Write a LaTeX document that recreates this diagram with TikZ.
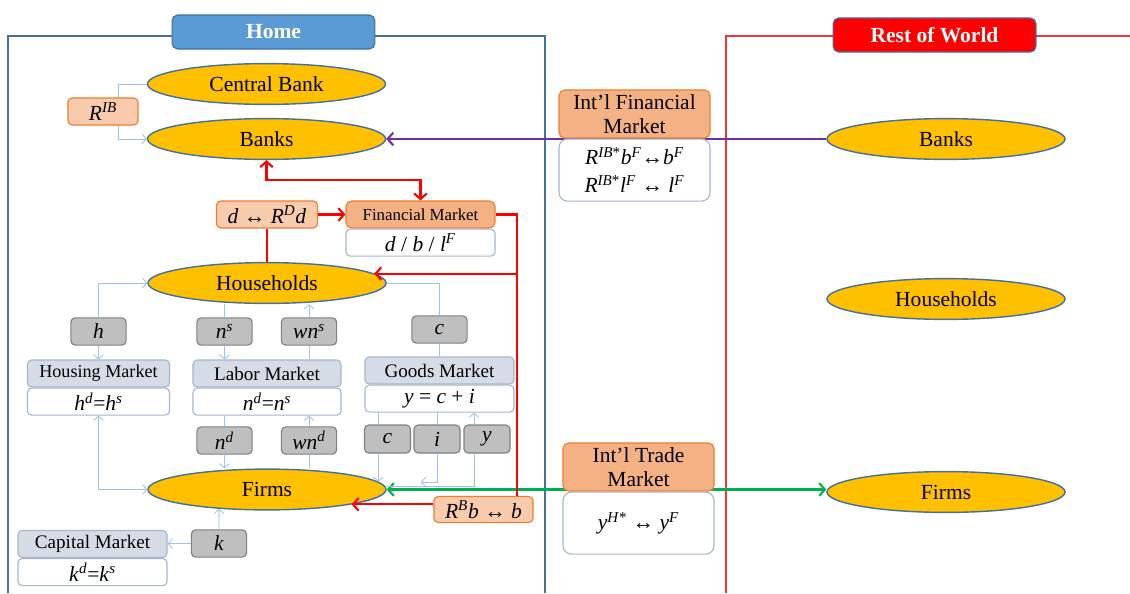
\documentclass[tikz,border=0pt]{standalone}
\usepackage{fontspec}
\setmainfont{Liberation Serif}
\usetikzlibrary{shapes.geometric,positioning,arrows.meta}
\definecolor{agentfill}{HTML}{FFC000}
\definecolor{agentline}{HTML}{41719C}
\definecolor{homeblue}{HTML}{5B9BD5}
\definecolor{pricefill}{HTML}{F8CBAD}
\definecolor{mktorange}{HTML}{F4B183}
\definecolor{orangeline}{HTML}{ED7D31}
\definecolor{varfill}{HTML}{BFBFBF}
\definecolor{varline}{HTML}{7F7F7F}
\definecolor{mktfill}{HTML}{D6DCE5}
\definecolor{mktline}{HTML}{A6B6CC}
\definecolor{linkblue}{HTML}{9DC3E6}
\definecolor{intlpurple}{HTML}{7030A0}
\definecolor{tradegreen}{HTML}{00B050}
\definecolor{rowred}{HTML}{E83838}
\newcommand{\ivar}[2]{\textit{#1}\textsuperscript{\textit{#2}}}
\newcommand{\bigtxt}{\fontsize{15.3}{17}\selectfont}
\newcommand{\midtxt}{\fontsize{13.6}{15}\selectfont}
\begin{document}
\begin{tikzpicture}[x=0.025cm, y=-0.025cm,
		agent/.style={ellipse, draw=agentline, fill=agentfill, line width=1pt, minimum width=5.95cm, minimum height=1.02cm, inner sep=0pt, font=\bigtxt},
		region/.style={rectangle, rounded corners=4pt, draw=agentline, line width=0.8pt, text=white, font=\bigtxt\bfseries, minimum width=5.07cm, minimum height=0.85cm},
		price/.style={rectangle, rounded corners=3pt, draw=orangeline, fill=pricefill, line width=0.8pt, font=\bigtxt, minimum height=0.675cm, inner sep=0pt},
		fmkt/.style={rectangle, rounded corners=4pt, draw=orangeline, fill=mktorange, line width=0.8pt, font=\bigtxt, align=center, inner sep=0pt},
		mkt/.style={rectangle, rounded corners=3pt, draw=mktline, fill=mktfill, line width=0.8pt, font=\midtxt, minimum height=0.675cm, inner sep=0pt},
		mkteq/.style={rectangle, rounded corners=3pt, draw=mktline, fill=white, line width=0.8pt, font=\bigtxt, minimum height=0.675cm, inner sep=0pt},
		flowvar/.style={rectangle, rounded corners=3pt, draw=varline, fill=varfill, line width=0.8pt, font=\bigtxt, minimum width=1.38cm, minimum height=0.68cm, inner sep=0pt},
		link/.style={draw=linkblue, line width=0.6pt},
		linktip/.style={-{Straight Barb[length=3pt,width=7pt]}},
		linktips/.style={{Straight Barb[length=3pt,width=7pt]}-{Straight Barb[length=3pt,width=7pt]}},
		money/.style={line width=1.5pt},
		bigtip/.style={-{Straight Barb[length=4pt,width=9pt]}},
		bigtips/.style={{Straight Barb[length=4pt,width=9pt]}-{Straight Barb[length=4pt,width=9pt]}}
		]
		\useasboundingbox (0,0) rectangle (1130,593);
		
		\draw[agentline, line width=0.8pt] (8,593) -- (8,36) -- (545,36) -- (545,593);
		\draw[rowred, line width=0.8pt] (726,593) -- (726,36) -- (1130,36);
		\node[region, fill=homeblue] (home) at (273.5,32) {Home};
		\node[region, fill=red] (row) at (934.5,35) {Rest of World};
		
		\node[agent] (cb) at (266.5,84) {Central Bank};
		\node[agent] (banks) at (266.5,139) {Banks};
		\node[agent] (hh) at (267,283) {Households};
		\node[agent] (firms) at (267,489.5) {Firms};
		\node[agent] (rowbanks) at (946,139) {Banks};
		\node[agent] (rowhh) at (946,299) {Households};
		\node[agent] (rowfirms) at (946,492) {Firms};
		
		\draw[money, draw=intlpurple, bigtip] (rowbanks.west) -- (banks.east);
		\draw[money, draw=tradegreen, bigtips] (firms.east) -- (firms.east -| rowfirms.west);
		
		\node[fmkt, minimum width=3.775cm, minimum height=1.2cm] (ifm) at (634.5,114) {Int’l Financial\\Market};
		\node[mkteq, rounded corners=6pt, minimum width=3.775cm, minimum height=1.55cm, align=center, below=0pt of ifm] (ifmeq)
		{\textit{R}\textsuperscript{\textit{IB}*}\ivar{b}{F}↔\ivar{b}{F}\\[3pt]\textit{R}\textsuperscript{\textit{IB}*}\ivar{l}{F} ↔ \ivar{l}{F}};
		\node[fmkt, minimum width=3.775cm, minimum height=1.2cm] (itm) at (638.5,467) {Int’l Trade\\Market};
		\node[mkteq, rounded corners=6pt, minimum width=3.775cm, minimum height=1.55cm, below=0pt of itm] (itmeq)
		{\textit{y}\textsuperscript{\textit{H}*} ↔ \ivar{y}{F}};
		
		\coordinate (cbturn) at (118,84);
		\draw[link, linktip] (cb.west) -- (cbturn) |- (banks.west);
		\node[price, minimum width=1.75cm] (rib) at (103,111.5) {\ivar{R}{IB}};
		
		\node[price, minimum width=2.525cm] (dbox) at (267,214.5) {\textit{d} ↔ \ivar{R}{D}\textit{d}};
		\node[fmkt, minimum width=3.725cm, minimum height=0.675cm, font=\fontsize{12}{14}\selectfont] (finmkt) at (420.5,214.5) {Financial Market};
		\node[mkteq, minimum width=3.725cm, below=0pt of finmkt] (fineq) {\textit{d} / \textit{b} / \ivar{l}{F}};
		\node[price, minimum width=2.475cm, minimum height=0.65cm] (rbb) at (483.5,509.5) {\ivar{R}{B}\textit{b} ↔ \textit{b}};
		
		\coordinate (bkturn) at (420.5,180);
		\coordinate (fmturn) at (517,214.5);
		\draw[money, draw=red, bigtips] (banks.south) |- (bkturn) -- (finmkt.north);
		\draw[money, draw=red, bigtip] (dbox) -- (finmkt);
		\draw[money, draw=red] (dbox.south) -- (hh.north);
		\draw[money, draw=red] (finmkt.east) -- (fmturn) -- (fmturn |- rbb.north);
		\draw[money, draw=red, bigtip] (fmturn |- hh.5) -- (hh.5);
		\draw[money, draw=red, bigtip] (rbb.west |- firms.-10) -- (firms.-10);
		
		\node[flowvar] (h) at (98.5,331.5) {\textit{h}};
		\node[flowvar] (ns) at (224.5,331.5) {\ivar{n}{s}};
		\node[flowvar] (wns) at (309,331.5) {\ivar{wn}{s}};
		\node[flowvar] (ch) at (439.5,329.5) {\textit{c}};
		\node[flowvar] (nd) at (224.5,440.5) {\ivar{n}{d}};
		\node[flowvar] (wnd) at (309,440.5) {\ivar{wn}{d}};
		\node[flowvar, minimum width=1.15cm, minimum height=0.7cm] (cg) at (387.5,439) {\textit{c}};
		\node[flowvar, minimum width=1.15cm, minimum height=0.7cm] (ig) at (437,439) {\textit{i}};
		\node[flowvar, minimum width=1.15cm, minimum height=0.7cm] (yg) at (487,439) {\textit{y}};
		\node[flowvar] (k) at (219,543.5) {\textit{k}};
		
		\node[mkt, minimum width=3.55cm, font=\fontsize{12.9}{15}\selectfont] (housing) at (98.5,373.5) {Housing Market};
		\node[mkteq, minimum width=3.55cm, below=0pt of housing] (houseq) {\ivar{h}{d}=\ivar{h}{s}};
		\node[mkt, minimum width=3.7cm] (labor) at (267,373.5) {Labor Market};
		\node[mkteq, minimum width=3.7cm, below=0pt of labor] (laboreq) {\ivar{n}{d}=\ivar{n}{s}};
		\node[mkt, minimum width=3.725cm] (goods) at (439.5,370.5) {Goods Market};
		\node[mkteq, minimum width=3.725cm, below=0pt of goods] (goodseq) {\textit{y} = \textit{c} + \textit{i}};
		\node[mkt, minimum width=3.725cm] (capital) at (92.5,544) {Capital Market};
		\node[mkteq, minimum width=3.725cm, below=0pt of capital] (capeq) {\ivar{k}{d}=\ivar{k}{s}};
		
		\coordinate (iend) at (421,482);
		\coordinate (yturn) at (474,486);
		\draw[link, linktip] (h.north) |- (hh.west);
		\draw[link, linktip] (h.south) -- (housing.north);
		\draw[link] (ns.north) -- (ns.north |- hh.south);
		\draw[link, linktip] (ns.south) -- (ns.south |- labor.north);
		\draw[link, linktip] (wns.north) -- (wns.north |- hh.south);
		\draw[link] (wns.south) -- (wns.south |- labor.north);
		\draw[link] (hh.east) -| (ch.north);
		\draw[link] (ch.south) -- (ch.south |- goods.north);
		\draw[link, linktips] (houseq.south) |- (firms.west);
		\draw[link] (nd.north) -- (nd.north |- laboreq.south);
		\draw[link, linktip] (nd.south) -- (nd.south |- firms.north);
		\draw[link, linktip] (wnd.north) -- (wnd.north |- laboreq.south);
		\draw[link] (wnd.south) -- (wnd.south |- firms.north);
		\draw[link] (goodseq.south -| firms.4) -- (cg.north -| firms.4);
		\draw[link, linktip] (cg.south -| firms.4) -- (firms.4);
		\draw[link] (goodseq.south -| ig) -- (ig.north);
		\draw[link, linktip] (ig.south) |- (iend);
		\draw[link] (yturn -| firms.east) -- (yturn) -- (yturn |- yg.south);
		\draw[link, linktip] (yturn |- yg.north) -- (yturn |- goodseq.south);
		\draw[link, linktip] (k.west) -- (k.west -| capital.east);
		\draw[link, linktip] (k.north) -- (firms.202);
\end{tikzpicture}
\end{document}
